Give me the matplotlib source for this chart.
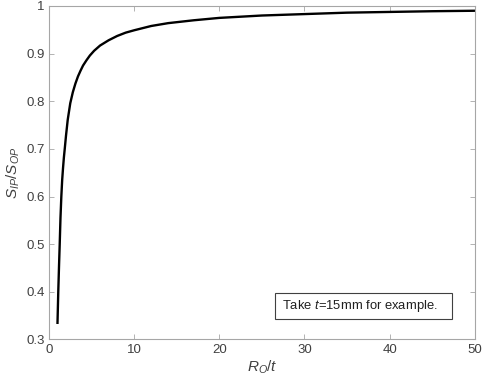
import matplotlib
matplotlib.use("Agg")
import matplotlib.pyplot as plt
from matplotlib.patches import Rectangle

plt.rcParams['font.family'] = ['Liberation Sans', 'DejaVu Sans']
plt.rcParams['mathtext.fontset'] = 'custom'
plt.rcParams['mathtext.rm'] = 'Liberation Sans'
plt.rcParams['mathtext.it'] = 'Liberation Sans:italic'

# values
ro_t = [1.0, 1.09, 1.18, 1.26, 1.35, 1.45, 1.55, 1.65, 1.75, 1.85, 2.0, 2.2, 2.5,
        2.8, 3.1, 3.4, 3.7, 4.0, 4.4, 4.8, 5.3, 6.0, 7.0, 8.0, 9.0, 10.0,
        12.0, 14.0, 17.0, 20.0, 25.0, 30.0, 35.0, 40.0, 45.0, 50.0]
ratio = [0.335, 0.40, 0.455, 0.50, 0.555, 0.60, 0.635, 0.66, 0.682, 0.70, 0.728, 0.761, 0.796,
         0.819, 0.837, 0.852, 0.864, 0.875, 0.886, 0.896, 0.906, 0.917, 0.928, 0.937, 0.944, 0.949,
         0.958, 0.964, 0.970, 0.975, 0.980, 0.983, 0.986, 0.9875, 0.989, 0.990]

xticks = [0, 10, 20, 30, 40, 50]
yticks = [0.3, 0.4, 0.5, 0.6, 0.7, 0.8, 0.9, 1.0]
ytick_labels = ['0.3', '0.4', '0.5', '0.6', '0.7', '0.8', '0.9', '1']

fig = plt.figure(figsize=(4.84, 3.86), dpi=100)
ax = fig.add_axes([0.1012, 0.1205, 0.8798, 0.864])

ax.plot(ro_t, ratio, color='black', lw=1.7)

ax.set_xlim(0, 50)
ax.set_ylim(0.3, 1.0)
ax.set_xticks(xticks)
ax.set_yticks(yticks)
ax.set_yticklabels(ytick_labels)

for s in ax.spines.values():
    s.set_color('#a6a6a6')
    s.set_linewidth(0.8)
ax.tick_params(direction='in', length=3.5, width=0.6, color='#a6a6a6',
               labelcolor='#404040', labelsize=9.5, top=True, right=True, pad=3)

ax.set_xlabel(r'$R_O/t$', fontsize=11, color='#404040', labelpad=2)
ax.set_ylabel(r'$S_{IP}/S_{OP}$', fontsize=11, color='#404040', labelpad=3)

# annotation box
ax.add_patch(Rectangle((0.5305, 0.0615), 0.4155, 0.078, transform=ax.transAxes,
                       fc='white', ec='#404040', lw=0.8, zorder=3))
ax.text(0.547, 0.100, r'Take $t$=15mm for example.', transform=ax.transAxes,
        fontsize=9.4, color='#202020', va='center', ha='left', zorder=4)

fig.savefig('out.png', dpi=100)
